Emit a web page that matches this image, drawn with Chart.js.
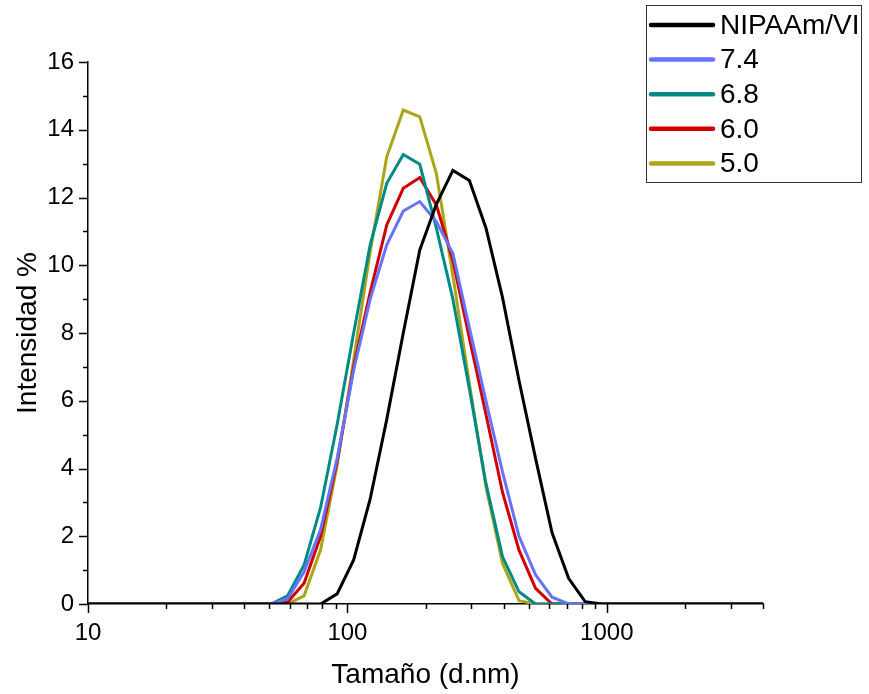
<!DOCTYPE html>
<html>
<head>
<meta charset="utf-8">
<script src="https://cdn.jsdelivr.net/npm/chart.js@4.4.1/dist/chart.umd.min.js"></script>
<style>
    html, body { margin: 0; padding: 0; background: #fff; }
    #wrap { width: 869px; height: 694px; }
</style>
</head>
<body>
<div id="wrap"><canvas id="sizeChart" width="869" height="694"></canvas></div>
<script>
// Size bins (d.nm)
const sizes = [8.721, 10.1, 11.7, 13.54, 15.69, 18.17, 21.04, 24.36, 28.21, 32.67, 37.84, 43.82,
    50.75, 58.77, 68.06, 78.82, 91.28, 105.7, 122.4, 141.8, 164.2, 190.1,
    220.2, 255.0, 295.3, 342.0, 396.1, 458.7, 531.2, 615.1, 712.4, 825.0,
    955.4, 1106, 1281, 1484, 1718, 1990, 2305, 2669, 3091, 3580, 4145, 4801];

// Intensity % per sample
const nipaamVi = [0, 0, 0, 0, 0, 0, 0, 0, 0, 0, 0, 0,
    0, 0, 0, 0, 0.3, 1.3, 3.1, 5.45, 8.0, 10.45,
    11.8, 12.8, 12.5, 11.1, 9.05, 6.6, 4.3, 2.1, 0.76, 0.07,
    0, 0, 0, 0, 0, 0, 0, 0, 0, 0, 0, 0];
const ph74 = [0, 0, 0, 0, 0, 0, 0, 0, 0, 0, 0, 0,
    0, 0.15, 0.95, 2.2, 4.3, 6.9, 9.0, 10.6, 11.6, 11.88,
    11.29, 10.35, 8.15, 6.0, 3.9, 2.0, 0.86, 0.2, 0, 0,
    0, 0, 0, 0, 0, 0, 0, 0, 0, 0, 0, 0];
const ph68 = [0, 0, 0, 0, 0, 0, 0, 0, 0, 0, 0, 0,
    0, 0.24, 1.15, 2.85, 5.3, 8.0, 10.6, 12.42, 13.27, 12.98,
    11.1, 9.0, 6.35, 3.56, 1.4, 0.36, 0, 0, 0, 0,
    0, 0, 0, 0, 0, 0, 0, 0, 0, 0, 0, 0];
const ph60 = [0, 0, 0, 0, 0, 0, 0, 0, 0, 0, 0, 0,
    0, 0.05, 0.61, 2.0, 4.2, 7.0, 9.2, 11.19, 12.27, 12.59,
    11.78, 10.15, 7.85, 5.6, 3.3, 1.59, 0.46, 0, 0, 0,
    0, 0, 0, 0, 0, 0, 0, 0, 0, 0, 0, 0];
const ph50 = [0, 0, 0, 0, 0, 0, 0, 0, 0, 0, 0, 0,
    0, 0, 0.24, 1.6, 4.1, 7.2, 10.4, 13.2, 14.58, 14.38,
    12.71, 9.7, 6.5, 3.46, 1.2, 0.1, 0, 0, 0, 0,
    0, 0, 0, 0, 0, 0, 0, 0, 0, 0, 0, 0];

const seriesLabels = ['NIPAAm/VI', '7.4', '6.8', '6.0', '5.0'];
const seriesValues = [nipaamVi, ph74, ph68, ph60, ph50];
const seriesColors = ['#000000', '#6673ff', '#008a85', '#d10000', '#aca41a'];

const xTickLabels = [10, 100, 1000];
const yTicks = [0, 2, 4, 6, 8, 10, 12, 14, 16];

const FONT = "'Liberation Sans', Arial, sans-serif";

// outward tick marks (major + minor) on both axes
const tickMarks = {
    id: 'tickMarks',
    afterDraw(chart) {
        const ctx = chart.ctx;
        const x = chart.scales.x, y = chart.scales.y;
        const area = chart.chartArea;
        ctx.save();
        ctx.strokeStyle = '#000';
        ctx.lineWidth = 1.5;
        ctx.beginPath();
        [10, 100, 1000].forEach(dec => {
            for (let m = 1; m <= 9; m++) {
                const v = m * dec;
                if (v > x.max + 1e-6) break;
                const px = Math.round(x.getPixelForValue(v)) + 0.5;
                const len = m === 1 ? 9 : 5;
                ctx.moveTo(px, area.bottom);
                ctx.lineTo(px, area.bottom + len);
            }
        });
        for (let v = 0; v <= 16; v++) {
            const py = Math.round(y.getPixelForValue(v)) + 0.5;
            const len = v % 2 === 0 ? 9 : 5;
            ctx.moveTo(area.left, py);
            ctx.lineTo(area.left - len, py);
        }
        ctx.stroke();
        ctx.restore();
    }
};

// boxed legend in the top right corner
const boxLegend = {
    id: 'boxLegend',
    afterDraw(chart) {
        const ctx = chart.ctx;
        ctx.save();
        ctx.fillStyle = '#fff';
        ctx.fillRect(646, 5, 216, 178);
        ctx.strokeStyle = '#333';
        ctx.lineWidth = 1;
        ctx.strokeRect(646.5, 5.5, 215, 177);
        ctx.font = '28px ' + FONT;
        ctx.textBaseline = 'middle';
        seriesLabels.forEach((label, i) => {
            const cy = 25 + i * 34.6;
            ctx.strokeStyle = seriesColors[i];
            ctx.lineWidth = 4.5;
            ctx.lineCap = 'round';
            ctx.beginPath();
            ctx.moveTo(651, cy);
            ctx.lineTo(713, cy);
            ctx.stroke();
            ctx.fillStyle = '#000';
            ctx.fillText(label, 720, cy + 1);
        });
        ctx.restore();
    }
};

const datasets = seriesLabels.map((label, i) => ({
    label: label,
    data: sizes.map((s, j) => ({ x: s, y: seriesValues[i][j] })),
    borderColor: seriesColors[i],
    backgroundColor: seriesColors[i],
    borderWidth: 3,
    pointRadius: 0,
    tension: 0,
    fill: false
}));

new Chart(document.getElementById('sizeChart'), {
    type: 'line',
    data: { datasets: datasets },
    options: {
        responsive: false,
        animation: false,
        layout: { padding: { top: 62, right: 106, left: 0, bottom: 0 } },
        plugins: {
            legend: { display: false },
            tooltip: { enabled: false }
        },
        scales: {
            x: {
                type: 'logarithmic',
                min: 10,
                max: 4000,
                afterFit: scale => { scale.height = 90; },
                grid: { display: false, drawTicks: false },
                border: { display: true, color: '#000', width: 1.5 },
                ticks: {
                    autoSkip: false,
                    maxRotation: 0,
                    padding: 15,
                    color: '#000',
                    font: { family: FONT, size: 24 },
                    callback: v => xTickLabels.includes(v) ? String(v) : ''
                },
                title: {
                    display: true,
                    text: 'Tamaño (d.nm)',
                    color: '#000',
                    font: { family: FONT, size: 28 },
                    padding: { top: 0, bottom: 2 }
                }
            },
            y: {
                min: 0,
                max: 16,
                afterFit: scale => { scale.width = 88; },
                afterBuildTicks: scale => { scale.ticks = yTicks.map(v => ({ value: v })); },
                grid: { display: false, drawTicks: false },
                border: { display: true, color: '#000', width: 1.5 },
                ticks: {
                    padding: 14,
                    color: '#000',
                    font: { family: FONT, size: 24 }
                },
                title: {
                    display: true,
                    text: 'Intensidad %',
                    color: '#000',
                    font: { family: FONT, size: 28 },
                    padding: { top: 11, bottom: 0 }
                }
            }
        }
    },
    plugins: [tickMarks, boxLegend]
});
</script>
</body>
</html>
